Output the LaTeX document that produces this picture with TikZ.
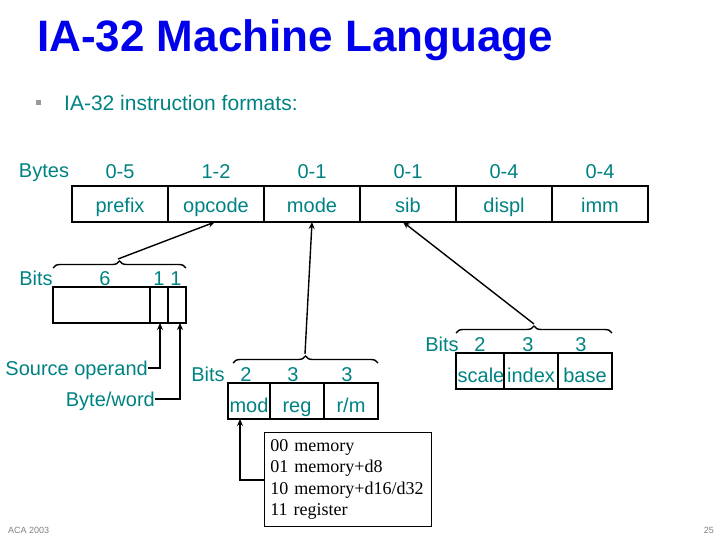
\documentclass[tikz,border=0pt]{standalone}
\usepackage{fontspec}
\setmainfont{Liberation Sans}
\newfontfamily\serifr{Liberation Serif}
\usetikzlibrary{decorations.pathreplacing,arrows.meta}
\definecolor{teal1}{RGB}{0,130,130}
\definecolor{tblue}{RGB}{0,0,235}
\begin{document}
\begin{tikzpicture}[x=1pt,y=-1pt,
  lbl/.style={text=teal1,font=\fontsize{20}{22}\selectfont,inner sep=0,text height=14pt,text depth=4pt},
  cell/.style={draw,line width=1.4pt},
  ln/.style={line width=1.4pt},
  arr/.style={ln,-{Stealth[length=7pt,width=6pt]}},
  br/.style={ln,decorate,decoration={brace,amplitude=7pt}}]
\useasboundingbox (0,0) rectangle (720,540);
\node[anchor=west,text=tblue,font=\bfseries\fontsize{44}{48}\selectfont,inner sep=0] (title) at (37,40) {IA-32 Machine Language};
\node[fill=gray!80,minimum size=5pt,inner sep=0] (bul) at (38,103) {};
\node[anchor=west,font=\fontsize{21}{23}\selectfont,text=teal1,inner sep=0] (sub) at (64,103) {IA-32 instruction formats:};
% top row
\node[lbl] (bytes) at (44,173) {Bytes};
\foreach \i/\b/\n in {0/0-5/prefix,1/1-2/opcode,2/0-1/mode,3/0-1/sib,4/0-4/displ,5/0-4/imm}{
  \node[lbl] (b\i) at ({120+96*\i},174) {\b};
  \draw[cell] ({72+96*\i},186) rectangle ({168+96*\i},222);
  \node[lbl] (c\n) at ({120+96*\i},207) {\n};
}
\coordinate (opb) at (215,222);
\coordinate (mob) at (312,222);
\coordinate (sbb) at (403,222);
% opcode bits
\node[lbl] (bits1) at (36,280) {Bits};
\node[lbl] (six) at (105,280) {6};
\node[lbl] (o1) at (159,280) {1};
\node[lbl] (o2) at (176,280) {1};
\draw[cell] (53,287) rectangle (186,323);
\draw[ln] (150,287) -- (150,323) (168,287) -- (168,323);
\draw[br] (53,268) -- (186,268);
\coordinate (bt1) at (118,259);
\draw[arr] (bt1) -- (opb);
\node[lbl,anchor=east] (src) at (148,370) {Source operand};
\node[lbl,anchor=east] (bw) at (155,401) {Byte/word};
\coordinate (s1) at (160,323);
\coordinate (s2) at (180,323);
\draw[arr] (148,368) -| (s1);
\draw[arr] (155,399) -| (s2);
% modrm
\node[lbl] (bits2) at (208,376) {Bits};
\node[lbl] (m2) at (246,376) {2};
\node[lbl] (m3) at (293,376) {3};
\node[lbl] (m4) at (347,376) {3};
\draw[cell] (228,383) rectangle (378,419);
\draw[ln] (270,383) -- (270,419) (324,383) -- (324,419);
\node[lbl] (mod) at (249,407) {mod};
\node[lbl] (reg) at (297,407) {reg};
\node[lbl] (rm) at (351,407) {r/m};
\draw[br] (233,363) -- (378,363);
\coordinate (bt2) at (305,354);
\draw[arr] (bt2) -- (mob);
% sib
\node[lbl] (bits3) at (442,346) {Bits};
\node[lbl] (s2l) at (480,346) {2};
\node[lbl] (s3l) at (528,346) {3};
\node[lbl] (s4l) at (581,346) {3};
\draw[cell] (456,353) rectangle (612,389);
\draw[ln] (504,353) -- (504,389) (558,353) -- (558,389);
\node[lbl] (scale) at (481,377) {scale};
\node[lbl] (index) at (531,377) {index};
\node[lbl] (base) at (585,377) {base};
\draw[br] (456,333) -- (612,333);
\coordinate (bt3) at (534,324);
\draw[arr] (bt3) -- (sbb);
% memory box
\node[draw,line width=0.8pt,align=left,font=\serifr\fontsize{18}{21.5}\selectfont,inner xsep=6pt,inner ysep=0,minimum width=167,minimum height=94,anchor=north west,text width=155] (memb) at (264,432) {00 memory\\01 memory+d8\\10 memory+d16/d32\\11 register};
\coordinate (mb) at (240,419);
\draw[arr] (264,480) -| (mb);
% footer
\node[anchor=west,text=gray,font=\fontsize{9}{10}\selectfont,inner sep=0] (aca) at (8,530) {ACA 2003};
\node[anchor=east,text=gray,font=\fontsize{9}{10}\selectfont,inner sep=0] (pg) at (714,530) {25};
\end{tikzpicture}
\end{document}
